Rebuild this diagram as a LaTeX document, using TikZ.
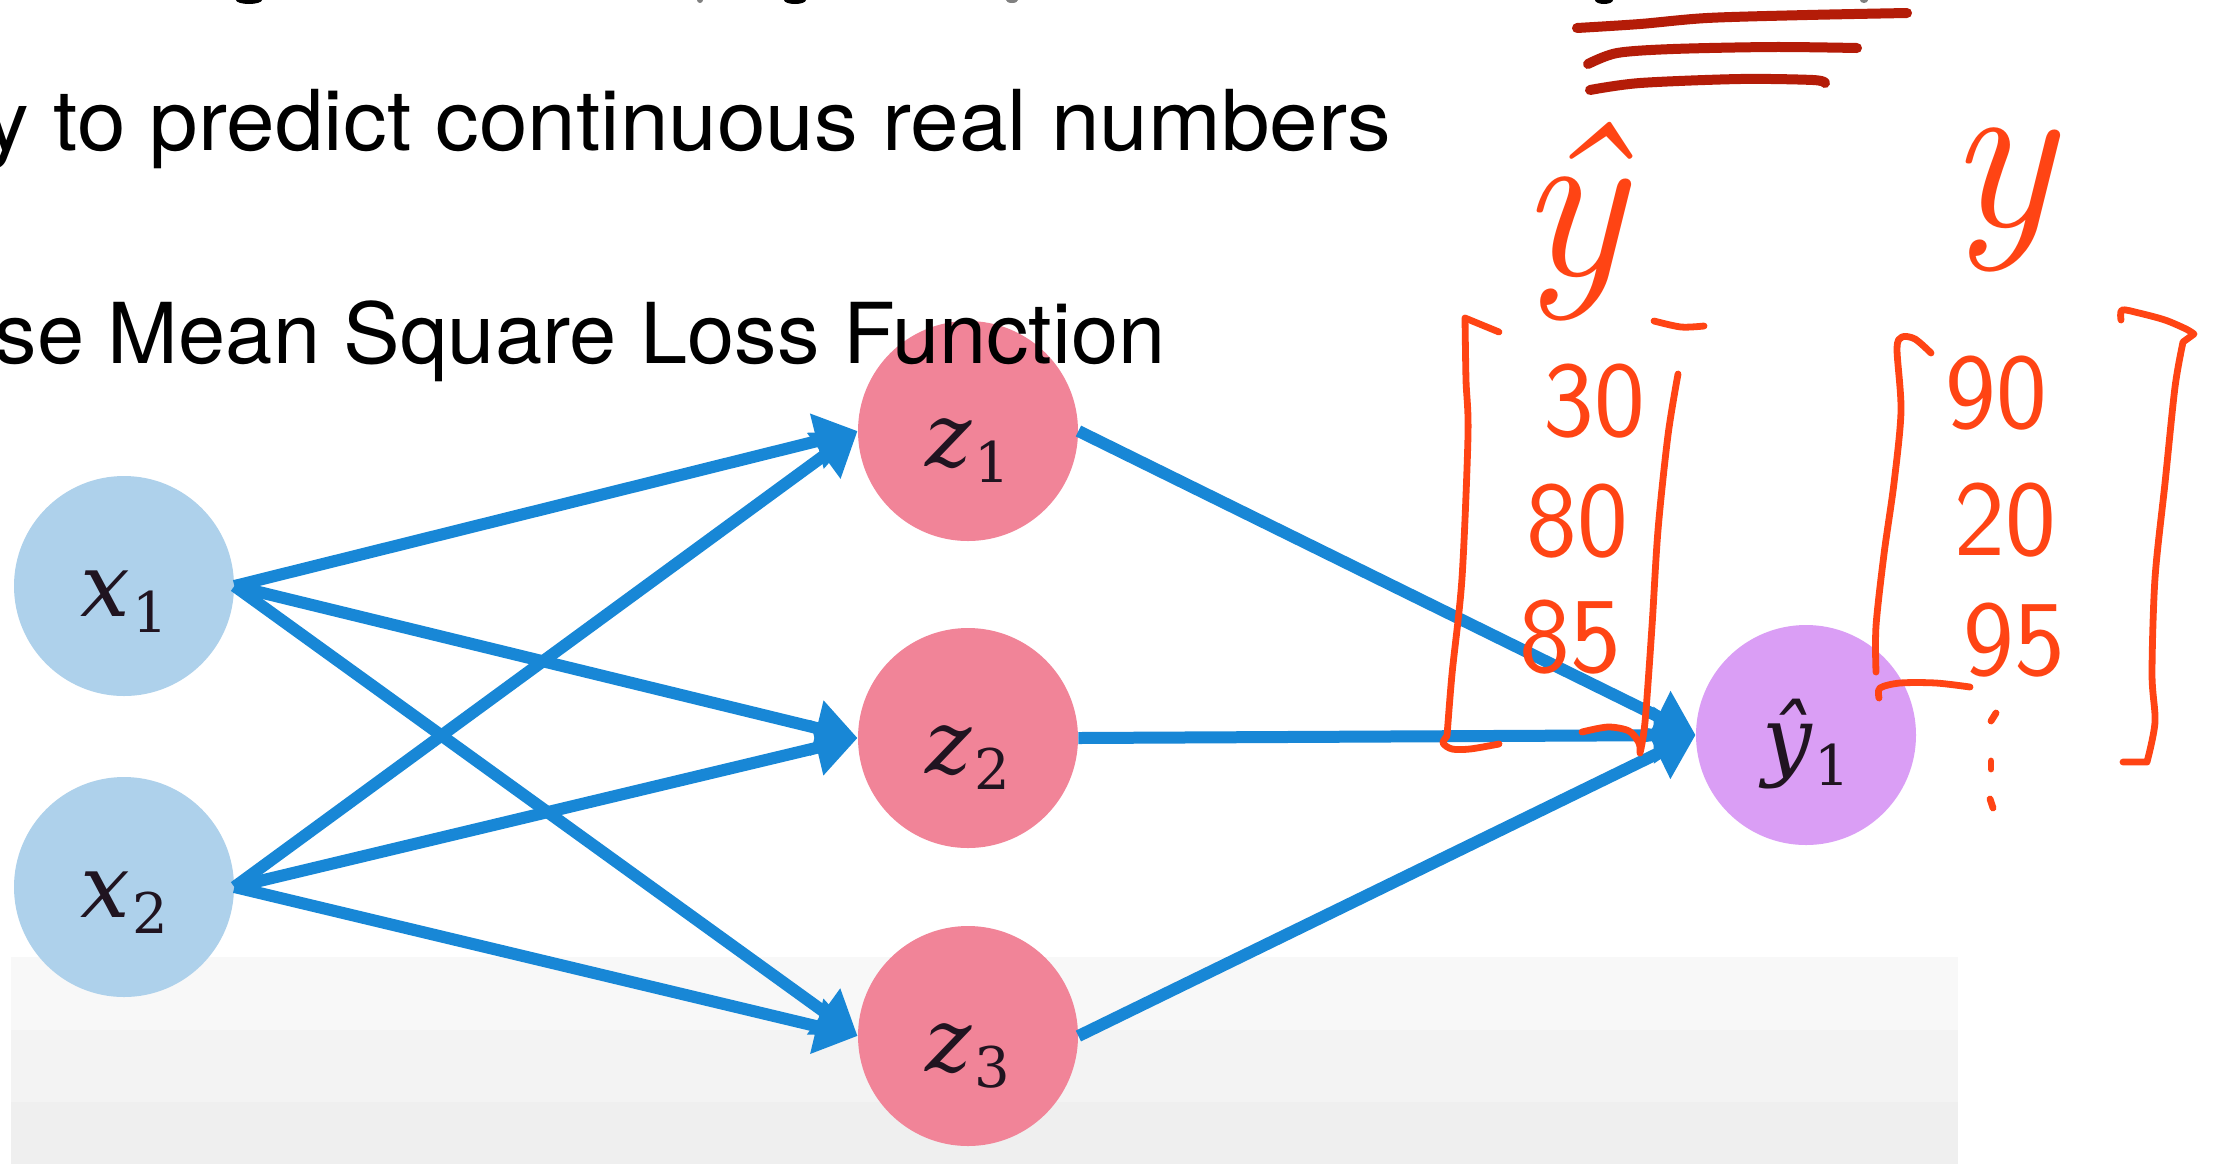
\documentclass[tikz,border=0pt]{standalone}
\usepackage{fontspec}
\usepackage{graphicx}
\usetikzlibrary{arrows.meta}
\newfontfamily\slidefont{TeX Gyre Heros}
\newfontfamily\labfont{DejaVu Serif}
\definecolor{arrowblue}{RGB}{24,135,214}
\definecolor{inblue}{RGB}{174,209,235}
\definecolor{hidpink}{RGB}{241,132,152}
\definecolor{outlilac}{RGB}{218,158,245}
\definecolor{inkred}{RGB}{255,68,20}
\definecolor{inkdark}{RGB}{180,28,8}
\definecolor{bandA}{RGB}{248,248,248}
\definecolor{bandB}{RGB}{243,243,243}
\definecolor{bandC}{RGB}{239,239,239}
\definecolor{labelink}{RGB}{32,20,32}
\newcommand{\nlab}[3]{\raisebox{#3}[\height][\depth]{\labfont\fontsize{44}{46}\selectfont\itshape #1\kern0.03em\raisebox{-8pt}{\upshape\fontsize{28}{30}\selectfont #2}}}
\begin{document}
\begin{tikzpicture}[x=0.5pt,y=-0.5pt,
  neuron/.style={circle,minimum size=110pt,inner sep=0pt,text=labelink},
  conn/.style={draw=arrowblue,line width=6pt,
    -{Triangle[length=21pt,width=27pt]}},
  slidetext/.style={inner sep=0pt,text=black,font=\slidefont\fontsize{42}{50}\selectfont},
  ink/.style={draw=inkred,line width=3.4pt,line cap=round,line join=round},
  underline/.style={draw=inkdark,line width=5pt,line cap=round,line join=round},
  handnum/.style={inner sep=0pt,text=inkred,font=\sffamily\fontsize{54}{60}\selectfont},
  handy/.style={inner sep=0pt,text=inkred,font=\itshape\fontsize{112}{120}\selectfont}]
\useasboundingbox (0,0) rectangle (2216,1164);
\clip (0,0) rectangle (2216,1164);
\fill[white] (0,0) rectangle (2216,1164);
% background bands
\fill[bandA] (11,957) rectangle (1958,1164);
\fill[bandB] (11,1030) rectangle (1958,1164);
\fill[bandC] (11,1102) rectangle (1958,1164);
% fragments of the line above the frame
\fill[black] (249,0) ellipse [x radius=6.5pt,y radius=2pt];
\fill[black] (795,0) ellipse [x radius=5.5pt,y radius=2pt];
\fill[black] (1604,0) ellipse [x radius=4.5pt,y radius=2pt];
\fill[gray] (700,0) ellipse [x radius=1.5pt,y radius=1.5pt];
\fill[gray] (1012,0) ellipse [x radius=3pt,y radius=1.5pt];
\fill[gray] (1864,0) ellipse [x radius=2pt,y radius=1.5pt];
% neurons
\node[neuron,fill=inblue] (x1) at (124,586) {\nlab{x}{1}{-8pt}};
\node[neuron,fill=inblue] (x2) at (124,887) {\nlab{x}{2}{-8pt}};
\node[neuron,fill=hidpink] (z1) at (968,431) {\nlab{z}{1}{-10pt}};
\node[neuron,fill=hidpink] (z2) at (968,738) {\nlab{z}{2}{-10pt}};
\node[neuron,fill=hidpink] (z3) at (968,1036) {\nlab{z}{3}{-10pt}};
\node[neuron,fill=outlilac] (yh) at (1806,735) {\nlab{ŷ}{1}{-4.5pt}};
% connectors
\foreach \s in {x1,x2}{\foreach \t in {z1,z2,z3}{\draw[conn] (\s.east) -- (\t.west);}}
\foreach \s in {z1,z2,z3}{\draw[conn] (\s.east) -- (yh.west);}
% slide text
\node[slidetext,anchor=base east] (line1) at (1392,150) {\scalebox{1.04}[1]{y to predict continuous real numbers}};
\node[slidetext,anchor=base east] (line2) at (1166,363) {\scalebox{1.01}[1]{se Mean Square Loss Function}};
% handwritten underlines
\draw[underline] plot[smooth] coordinates {(1577,28) (1640,24) (1707,18) (1807,15) (1907,13)};
\draw[underline] plot[smooth] coordinates {(1588,64) (1617,53) (1673,49) (1773,47) (1857,48)};
\draw[underline] plot[smooth] coordinates {(1590,90) (1640,83) (1740,79) (1813,80) (1825,83)};
% left matrix (predictions)
\node[handy] (yhatlab) at (1572,222) {ŷ};
\draw[ink] (1499,332) -- (1465,318) plot[smooth] coordinates {(1465,318) (1466,380) (1468,435) (1462,578) (1452,674) (1447,736)}
  plot[smooth] coordinates {(1447,736) (1443,743) (1452,749) (1470,749) (1499,744)};
\draw[ink] plot[smooth] coordinates {(1654,321) (1681,327) (1704,326)};
\draw[ink] plot[smooth] coordinates {(1582,732) (1608,727) (1629,731) (1639,743) (1640,753)}
  plot[smooth] coordinates {(1640,753) (1645,722) (1652,626) (1658,530) (1668,435) (1678,374)};
\node[handnum] (p30) at (1594,401) {30};
\node[handnum] (p80) at (1577,521) {80};
\node[handnum] (p85) at (1570,637) {85};
% right matrix (targets)
\node[handy] (ylab) at (2001,200) {y};
\draw[ink] plot[smooth] coordinates {(1931,353) (1915,339) (1902,337) (1897,349) (1901,411) (1894,483) (1884,554) (1876,626) (1876,672)};
\draw[ink] plot[smooth] coordinates {(1879,698) (1880,688) (1900,683) (1936,683) (1970,687)};
\draw[ink] plot[smooth] coordinates {(2121,320) (2122,310) (2139,313) (2165,320) (2186,329) (2194,334)}
  -- (2183,342) plot[smooth] coordinates {(2183,342) (2175,387) (2165,483) (2155,578) (2152,674) (2155,722) (2147,762)} -- (2123,762);
\node[handnum] (t90) at (1996,393) {90};
\node[handnum] (t20) at (2005,520) {20};
\node[handnum] (t95) at (2014,640) {95};
\draw[ink] (1996,713) -- (1991,721);
\draw[ink] (1991,761) -- (1991,769);
\draw[ink] (1990,799) -- (1993,808);
\end{tikzpicture}
\end{document}
